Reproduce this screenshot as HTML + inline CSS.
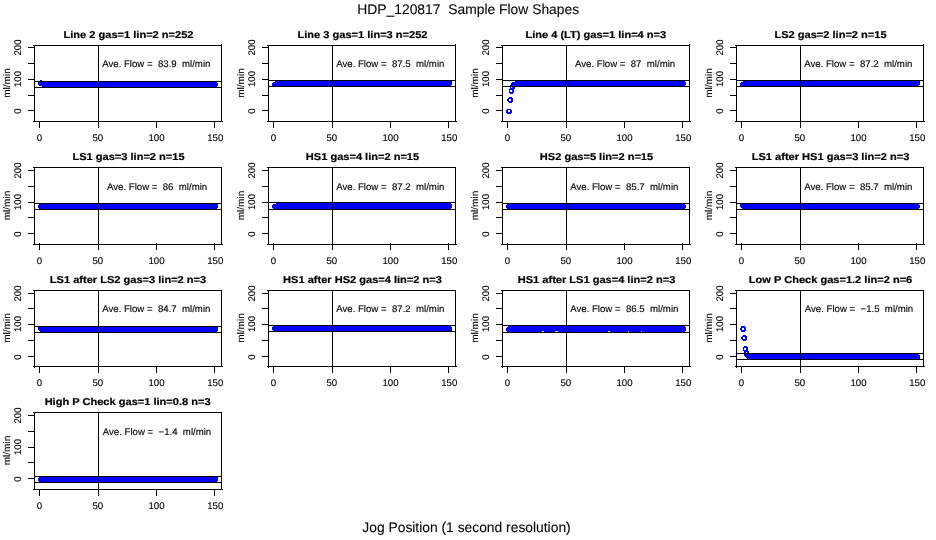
<!DOCTYPE html>
<html lang="en">
<head>
<meta charset="utf-8">
<title>HDP_120817 Sample Flow Shapes</title>
<style>
html,body{margin:0;padding:0;background:#fff;}
body{width:936px;height:540px;overflow:hidden;}
svg{display:block;font-family:"Liberation Sans",sans-serif;fill:#000;text-rendering:geometricPrecision;}
text{white-space:pre;}
.a{font-size:9.65px;stroke:#000;stroke-width:.12px;}
.t{font-size:9.65px;stroke:#000;stroke-width:.12px;}
.b{font-size:10px;font-weight:bold;stroke:#000;stroke-width:.2px;}
.m{font-size:14px;stroke:#000;stroke-width:.08px;}
.k{stroke:#000;stroke-width:1;fill:none;shape-rendering:crispEdges;}
.p{fill:#00f;stroke:none;shape-rendering:crispEdges;}
</style>
</head>
<body>
<svg width="936" height="540" viewBox="0 0 936 540">
<rect width="936" height="540" fill="#fff"/>
<text class="m" transform="translate(468.2 14) scale(.99 1)" text-anchor="middle" xml:space="preserve">HDP_120817  Sample Flow Shapes</text>
<text class="m" transform="translate(466.5 531.5) scale(.988 1)" text-anchor="middle">Jog Position (1 second resolution)</text>
<g>
<path class="p" d="M40 80h2v1h-2zM39 81h7v1h-7zM48 81h6v1h-6zM56 81h5v1h-5zM63 81h5v1h-5zM70 81h5v1h-5zM77 81h5v1h-5zM85 81h5v1h-5zM92 81h5v1h-5zM99 81h5v1h-5zM106 81h5v1h-5zM113 81h6v1h-6zM121 81h5v1h-5zM128 81h5v1h-5zM135 81h5v1h-5zM142 81h6v1h-6zM150 81h5v1h-5zM157 81h5v1h-5zM164 81h5v1h-5zM171 81h5v1h-5zM179 81h5v1h-5zM186 81h5v1h-5zM193 81h5v1h-5zM200 81h5v1h-5zM207 81h6v1h-6zM215 81h1v1h-1zM38 82h179v1h-179zM38 83h180v1h-180zM38 84h180v1h-180zM39 85h179v1h-179zM42 86h175v1h-175z"/>
<path class="k" d="M33 45.5H222M33 121.5H223M34.5 45V122M221.5 44V122M28 47.5H35M28 63.5H35M28 79.5H35M28 95.5H35M28 110.5H35M39.5 121V128M98.5 121V128M156.5 121V128M214.5 121V128M98.5 45V122M34 81.5H222M34 87.5H222"/>
<text class="b" transform="translate(128.5 37.7) scale(1.105 1)" text-anchor="middle">Line 2 gas=1 lin=2 n=252</text>
<text class="a" transform="translate(156.3 67.1)" text-anchor="middle" xml:space="preserve">Ave. Flow =  83.9  ml/min</text>
<text class="t" transform="translate(39.5 141)" text-anchor="middle">0</text>
<text class="t" transform="translate(97.8 141)" text-anchor="middle">50</text>
<text class="t" transform="translate(156.5 141)" text-anchor="middle">100</text>
<text class="t" transform="translate(215.3 141)" text-anchor="middle">150</text>
<text class="t" transform="translate(20.8 111.2) rotate(-90)" text-anchor="middle">0</text>
<text class="t" transform="translate(20.8 79) rotate(-90)" text-anchor="middle">100</text>
<text class="t" transform="translate(20.8 47.5) rotate(-90)" text-anchor="middle">200</text>
<text class="a" transform="translate(9.8 83) rotate(-90) scale(1.045 1)" text-anchor="middle">ml/min</text>
</g>
<g>
<path class="p" d="M276 80h174v1h-174zM275 81h177v1h-177zM273 82h179v1h-179zM272 83h180v1h-180zM272 84h180v1h-180zM272 85h179v1h-179zM273 86h5v1h-5z"/>
<path class="k" d="M267 45.5H456M267 121.5H457M268.5 45V122M455.5 44V122M262 47.5H269M262 63.5H269M262 79.5H269M262 95.5H269M262 110.5H269M273.5 121V128M332.5 121V128M390.5 121V128M448.5 121V128M332.5 45V122M268 80.5H456M268 86.5H456"/>
<text class="b" transform="translate(362.5 37.7) scale(1.105 1)" text-anchor="middle">Line 3 gas=1 lin=3 n=252</text>
<text class="a" transform="translate(390.3 67.1)" text-anchor="middle" xml:space="preserve">Ave. Flow =  87.5  ml/min</text>
<text class="t" transform="translate(273.5 141)" text-anchor="middle">0</text>
<text class="t" transform="translate(331.8 141)" text-anchor="middle">50</text>
<text class="t" transform="translate(390.5 141)" text-anchor="middle">100</text>
<text class="t" transform="translate(449.3 141)" text-anchor="middle">150</text>
<text class="t" transform="translate(254.8 111.2) rotate(-90)" text-anchor="middle">0</text>
<text class="t" transform="translate(254.8 79) rotate(-90)" text-anchor="middle">100</text>
<text class="t" transform="translate(254.8 47.5) rotate(-90)" text-anchor="middle">200</text>
<text class="a" transform="translate(243.8 83) rotate(-90) scale(1.045 1)" text-anchor="middle">ml/min</text>
</g>
<g>
<path class="p" d="M518 80h2v1h-2zM525 80h2v1h-2zM532 80h3v1h-3zM540 80h2v1h-2zM547 80h2v1h-2zM554 80h2v1h-2zM561 80h2v1h-2zM569 80h2v1h-2zM576 80h2v1h-2zM583 80h2v1h-2zM590 80h2v1h-2zM597 80h3v1h-3zM605 80h2v1h-2zM612 80h2v1h-2zM619 80h2v1h-2zM626 80h3v1h-3zM634 80h2v1h-2zM641 80h2v1h-2zM648 80h2v1h-2zM655 80h2v1h-2zM663 80h2v1h-2zM670 80h2v1h-2zM677 80h2v1h-2zM515 81h170v1h-170zM512 82h174v1h-174zM511 83h175v1h-175zM511 84h175v1h-175zM510 85h175v1h-175zM510 87h1v1h-1zM512 87h3v1h-3zM510 88h5v1h-5zM509 89h5v1h-5zM509 90h1v1h-1zM512 90h2v1h-2zM509 91h1v1h-1zM512 91h2v1h-2zM509 92h5v1h-5zM510 93h3v1h-3zM509 97h3v1h-3zM508 98h5v1h-5zM507 99h2v1h-2zM511 99h2v1h-2zM507 100h2v1h-2zM511 100h2v1h-2zM508 101h5v1h-5zM509 102h3v1h-3zM507 109h4v1h-4zM506 110h2v1h-2zM510 110h2v1h-2zM506 111h2v1h-2zM510 111h2v1h-2zM506 112h6v1h-6zM507 113h4v1h-4z"/>
<path class="k" d="M501 45.5H690M501 121.5H691M502.5 45V122M689.5 44V122M496 47.5H503M496 63.5H503M496 79.5H503M496 95.5H503M496 110.5H503M507.5 121V128M566.5 121V128M624.5 121V128M682.5 121V128M566.5 45V122M502 80.5H690M502 86.5H690"/>
<text class="b" transform="translate(595.8 37.7) scale(1.105 1)" text-anchor="middle">Line 4 (LT) gas=1 lin=4 n=3</text>
<text class="a" transform="translate(625.1 67.1)" text-anchor="middle" xml:space="preserve">Ave. Flow =  87  ml/min</text>
<text class="t" transform="translate(507.5 141)" text-anchor="middle">0</text>
<text class="t" transform="translate(565.8 141)" text-anchor="middle">50</text>
<text class="t" transform="translate(624.5 141)" text-anchor="middle">100</text>
<text class="t" transform="translate(683.3 141)" text-anchor="middle">150</text>
<text class="t" transform="translate(488.8 111.2) rotate(-90)" text-anchor="middle">0</text>
<text class="t" transform="translate(488.8 79) rotate(-90)" text-anchor="middle">100</text>
<text class="t" transform="translate(488.8 47.5) rotate(-90)" text-anchor="middle">200</text>
<text class="a" transform="translate(477.8 83) rotate(-90) scale(1.045 1)" text-anchor="middle">ml/min</text>
</g>
<g>
<path class="p" d="M745 80h173v1h-173zM743 81h177v1h-177zM741 82h179v1h-179zM740 83h180v1h-180zM740 84h180v1h-180zM740 85h179v1h-179zM741 86h5v1h-5z"/>
<path class="k" d="M735 45.5H924M735 121.5H925M736.5 45V122M923.5 44V122M730 47.5H737M730 63.5H737M730 79.5H737M730 95.5H737M730 110.5H737M741.5 121V128M800.5 121V128M858.5 121V128M916.5 121V128M800.5 45V122M736 80.5H924M736 86.5H924"/>
<text class="b" transform="translate(830.5 37.7) scale(1.105 1)" text-anchor="middle">LS2 gas=2 lin=2 n=15</text>
<text class="a" transform="translate(858.3 67.1)" text-anchor="middle" xml:space="preserve">Ave. Flow =  87.2  ml/min</text>
<text class="t" transform="translate(741.5 141)" text-anchor="middle">0</text>
<text class="t" transform="translate(799.8 141)" text-anchor="middle">50</text>
<text class="t" transform="translate(858.5 141)" text-anchor="middle">100</text>
<text class="t" transform="translate(917.3 141)" text-anchor="middle">150</text>
<text class="t" transform="translate(722.8 111.2) rotate(-90)" text-anchor="middle">0</text>
<text class="t" transform="translate(722.8 79) rotate(-90)" text-anchor="middle">100</text>
<text class="t" transform="translate(722.8 47.5) rotate(-90)" text-anchor="middle">200</text>
<text class="a" transform="translate(711.8 83) rotate(-90) scale(1.045 1)" text-anchor="middle">ml/min</text>
</g>
<g>
<path class="p" d="M40 203h176v1h-176zM39 204h179v1h-179zM38 205h180v1h-180zM38 206h180v1h-180zM38 207h180v1h-180zM39 208h178v1h-178z"/>
<path class="k" d="M33 167.5H222M33 244.5H223M34.5 167V245M221.5 167V245M28 170.5H35M28 186.5H35M28 202.5H35M28 217.5H35M28 233.5H35M39.5 243V250M98.5 243V250M156.5 243V250M214.5 243V250M98.5 167V245M34 203.5H222M34 209.5H222"/>
<text class="b" transform="translate(128.5 159.7) scale(1.105 1)" text-anchor="middle">LS1 gas=3 lin=2 n=15</text>
<text class="a" transform="translate(157.1 190.1)" text-anchor="middle" xml:space="preserve">Ave. Flow =  86  ml/min</text>
<text class="t" transform="translate(39.5 264)" text-anchor="middle">0</text>
<text class="t" transform="translate(97.8 264)" text-anchor="middle">50</text>
<text class="t" transform="translate(156.5 264)" text-anchor="middle">100</text>
<text class="t" transform="translate(215.3 264)" text-anchor="middle">150</text>
<text class="t" transform="translate(20.8 234.2) rotate(-90)" text-anchor="middle">0</text>
<text class="t" transform="translate(20.8 202) rotate(-90)" text-anchor="middle">100</text>
<text class="t" transform="translate(20.8 170.5) rotate(-90)" text-anchor="middle">200</text>
<text class="a" transform="translate(9.8 205.5) rotate(-90) scale(1.045 1)" text-anchor="middle">ml/min</text>
</g>
<g>
<path class="p" d="M276 203h175v1h-175zM273 204h179v1h-179zM272 205h180v1h-180zM272 206h180v1h-180zM272 207h180v1h-180zM273 208h178v1h-178zM275 209h1v1h-1z"/>
<path class="k" d="M267 167.5H456M267 244.5H457M268.5 167V245M455.5 167V245M262 170.5H269M262 186.5H269M262 202.5H269M262 217.5H269M262 233.5H269M273.5 243V250M332.5 243V250M390.5 243V250M448.5 243V250M332.5 167V245M268 202.5H456M268 209.5H456"/>
<text class="b" transform="translate(362.5 159.7) scale(1.105 1)" text-anchor="middle">HS1 gas=4 lin=2 n=15</text>
<text class="a" transform="translate(390.3 190.1)" text-anchor="middle" xml:space="preserve">Ave. Flow =  87.2  ml/min</text>
<text class="t" transform="translate(273.5 264)" text-anchor="middle">0</text>
<text class="t" transform="translate(331.8 264)" text-anchor="middle">50</text>
<text class="t" transform="translate(390.5 264)" text-anchor="middle">100</text>
<text class="t" transform="translate(449.3 264)" text-anchor="middle">150</text>
<text class="t" transform="translate(254.8 234.2) rotate(-90)" text-anchor="middle">0</text>
<text class="t" transform="translate(254.8 202) rotate(-90)" text-anchor="middle">100</text>
<text class="t" transform="translate(254.8 170.5) rotate(-90)" text-anchor="middle">200</text>
<text class="a" transform="translate(243.8 205.5) rotate(-90) scale(1.045 1)" text-anchor="middle">ml/min</text>
</g>
<g>
<path class="p" d="M507 204h178v1h-178zM506 205h180v1h-180zM506 206h180v1h-180zM506 207h180v1h-180zM507 208h178v1h-178zM511 209h2v1h-2zM518 209h2v1h-2zM525 209h2v1h-2zM532 209h2v1h-2zM540 209h2v1h-2zM547 209h2v1h-2zM554 209h2v1h-2zM561 209h2v1h-2zM569 209h2v1h-2zM576 209h2v1h-2zM583 209h2v1h-2zM590 209h2v1h-2zM597 209h3v1h-3zM605 209h2v1h-2zM612 209h2v1h-2zM619 209h2v1h-2zM626 209h2v1h-2zM634 209h2v1h-2zM641 209h2v1h-2zM648 209h2v1h-2zM655 209h2v1h-2zM663 209h2v1h-2zM670 209h2v1h-2zM677 209h2v1h-2z"/>
<path class="k" d="M501 167.5H690M501 244.5H691M502.5 167V245M689.5 167V245M496 170.5H503M496 186.5H503M496 202.5H503M496 217.5H503M496 233.5H503M507.5 243V250M566.5 243V250M624.5 243V250M682.5 243V250M566.5 167V245M502 203.5H690M502 209.5H690"/>
<text class="b" transform="translate(596.5 159.7) scale(1.105 1)" text-anchor="middle">HS2 gas=5 lin=2 n=15</text>
<text class="a" transform="translate(624.3 190.1)" text-anchor="middle" xml:space="preserve">Ave. Flow =  85.7  ml/min</text>
<text class="t" transform="translate(507.5 264)" text-anchor="middle">0</text>
<text class="t" transform="translate(565.8 264)" text-anchor="middle">50</text>
<text class="t" transform="translate(624.5 264)" text-anchor="middle">100</text>
<text class="t" transform="translate(683.3 264)" text-anchor="middle">150</text>
<text class="t" transform="translate(488.8 234.2) rotate(-90)" text-anchor="middle">0</text>
<text class="t" transform="translate(488.8 202) rotate(-90)" text-anchor="middle">100</text>
<text class="t" transform="translate(488.8 170.5) rotate(-90)" text-anchor="middle">200</text>
<text class="a" transform="translate(477.8 205.5) rotate(-90) scale(1.045 1)" text-anchor="middle">ml/min</text>
</g>
<g>
<path class="p" d="M741 203h4v1h-4zM740 204h179v1h-179zM740 205h180v1h-180zM740 206h180v1h-180zM741 207h179v1h-179zM742 208h177v1h-177zM745 209h2v1h-2zM752 209h2v1h-2zM759 209h2v1h-2zM766 209h2v1h-2zM774 209h2v1h-2zM781 209h2v1h-2zM788 209h2v1h-2zM795 209h2v1h-2zM803 209h2v1h-2zM810 209h2v1h-2zM817 209h2v1h-2zM824 209h2v1h-2zM831 209h3v1h-3zM839 209h2v1h-2zM846 209h2v1h-2zM853 209h2v1h-2zM860 209h2v1h-2zM868 209h2v1h-2zM875 209h2v1h-2zM882 209h2v1h-2zM889 209h2v1h-2zM897 209h2v1h-2zM904 209h2v1h-2zM911 209h2v1h-2z"/>
<path class="k" d="M735 167.5H924M735 244.5H925M736.5 167V245M923.5 167V245M730 170.5H737M730 186.5H737M730 202.5H737M730 217.5H737M730 233.5H737M741.5 243V250M800.5 243V250M858.5 243V250M916.5 243V250M800.5 167V245M736 203.5H924M736 209.5H924"/>
<text class="b" transform="translate(830.5 159.7) scale(1.105 1)" text-anchor="middle">LS1 after HS1 gas=3 lin=2 n=3</text>
<text class="a" transform="translate(858.3 190.1)" text-anchor="middle" xml:space="preserve">Ave. Flow =  85.7  ml/min</text>
<text class="t" transform="translate(741.5 264)" text-anchor="middle">0</text>
<text class="t" transform="translate(799.8 264)" text-anchor="middle">50</text>
<text class="t" transform="translate(858.5 264)" text-anchor="middle">100</text>
<text class="t" transform="translate(917.3 264)" text-anchor="middle">150</text>
<text class="t" transform="translate(722.8 234.2) rotate(-90)" text-anchor="middle">0</text>
<text class="t" transform="translate(722.8 202) rotate(-90)" text-anchor="middle">100</text>
<text class="t" transform="translate(722.8 170.5) rotate(-90)" text-anchor="middle">200</text>
<text class="a" transform="translate(711.8 205.5) rotate(-90) scale(1.045 1)" text-anchor="middle">ml/min</text>
</g>
<g>
<path class="p" d="M39 326h177v1h-177zM38 327h180v1h-180zM38 328h180v1h-180zM38 329h180v1h-180zM39 330h179v1h-179zM40 331h177v1h-177z"/>
<path class="k" d="M33 290.5H222M33 366.5H223M34.5 290V368M221.5 290V367M28 293.5H35M28 308.5H35M28 324.5H35M28 340.5H35M28 356.5H35M39.5 366V373M98.5 366V373M156.5 366V373M214.5 366V373M98.5 290V367M34 326.5H222M34 332.5H222"/>
<text class="b" transform="translate(128 282.7) scale(1.105 1)" text-anchor="middle">LS1 after LS2 gas=3 lin=2 n=3</text>
<text class="a" transform="translate(156.3 312.1)" text-anchor="middle" xml:space="preserve">Ave. Flow =  84.7  ml/min</text>
<text class="t" transform="translate(39.5 386)" text-anchor="middle">0</text>
<text class="t" transform="translate(97.8 386)" text-anchor="middle">50</text>
<text class="t" transform="translate(156.5 386)" text-anchor="middle">100</text>
<text class="t" transform="translate(215.3 386)" text-anchor="middle">150</text>
<text class="t" transform="translate(20.8 357.2) rotate(-90)" text-anchor="middle">0</text>
<text class="t" transform="translate(20.8 324) rotate(-90)" text-anchor="middle">100</text>
<text class="t" transform="translate(20.8 293.5) rotate(-90)" text-anchor="middle">200</text>
<text class="a" transform="translate(9.8 328) rotate(-90) scale(1.045 1)" text-anchor="middle">ml/min</text>
</g>
<g>
<path class="p" d="M273 326h178v1h-178zM272 327h180v1h-180zM272 328h180v1h-180zM272 329h180v1h-180zM273 330h179v1h-179zM274 331h176v1h-176z"/>
<path class="k" d="M267 290.5H456M267 366.5H457M268.5 290V368M455.5 290V367M262 293.5H269M262 308.5H269M262 324.5H269M262 340.5H269M262 356.5H269M273.5 366V373M332.5 366V373M390.5 366V373M448.5 366V373M332.5 290V367M268 325.5H456M268 331.5H456"/>
<text class="b" transform="translate(362.5 282.7) scale(1.105 1)" text-anchor="middle">HS1 after HS2 gas=4 lin=2 n=3</text>
<text class="a" transform="translate(390.3 312.1)" text-anchor="middle" xml:space="preserve">Ave. Flow =  87.2  ml/min</text>
<text class="t" transform="translate(273.5 386)" text-anchor="middle">0</text>
<text class="t" transform="translate(331.8 386)" text-anchor="middle">50</text>
<text class="t" transform="translate(390.5 386)" text-anchor="middle">100</text>
<text class="t" transform="translate(449.3 386)" text-anchor="middle">150</text>
<text class="t" transform="translate(254.8 357.2) rotate(-90)" text-anchor="middle">0</text>
<text class="t" transform="translate(254.8 324) rotate(-90)" text-anchor="middle">100</text>
<text class="t" transform="translate(254.8 293.5) rotate(-90)" text-anchor="middle">200</text>
<text class="a" transform="translate(243.8 328) rotate(-90) scale(1.045 1)" text-anchor="middle">ml/min</text>
</g>
<g>
<path class="p" d="M540 325h5v1h-5zM553 325h6v1h-6zM606 325h5v1h-5zM626 325h4v1h-4zM639 325h5v1h-5zM508 326h177v1h-177zM507 327h179v1h-179zM506 328h180v1h-180zM506 329h180v1h-180zM506 330h180v1h-180zM507 331h35v1h-35zM544 331h11v1h-11zM558 331h50v1h-50zM610 331h18v1h-18zM629 331h12v1h-12zM642 331h43v1h-43z"/>
<path class="k" d="M501 290.5H690M501 366.5H691M502.5 290V368M689.5 290V367M496 293.5H503M496 308.5H503M496 324.5H503M496 340.5H503M496 356.5H503M507.5 366V373M566.5 366V373M624.5 366V373M682.5 366V373M566.5 290V367M502 325.5H690M502 332.5H690"/>
<text class="b" transform="translate(596.5 282.7) scale(1.105 1)" text-anchor="middle">HS1 after LS1 gas=4 lin=2 n=3</text>
<text class="a" transform="translate(624.3 312.1)" text-anchor="middle" xml:space="preserve">Ave. Flow =  86.5  ml/min</text>
<text class="t" transform="translate(507.5 386)" text-anchor="middle">0</text>
<text class="t" transform="translate(565.8 386)" text-anchor="middle">50</text>
<text class="t" transform="translate(624.5 386)" text-anchor="middle">100</text>
<text class="t" transform="translate(683.3 386)" text-anchor="middle">150</text>
<text class="t" transform="translate(488.8 357.2) rotate(-90)" text-anchor="middle">0</text>
<text class="t" transform="translate(488.8 324) rotate(-90)" text-anchor="middle">100</text>
<text class="t" transform="translate(488.8 293.5) rotate(-90)" text-anchor="middle">200</text>
<text class="a" transform="translate(477.8 328) rotate(-90) scale(1.045 1)" text-anchor="middle">ml/min</text>
</g>
<g>
<path class="p" d="M741 326h4v1h-4zM741 327h5v1h-5zM740 328h2v1h-2zM744 328h2v1h-2zM740 329h2v1h-2zM744 329h2v1h-2zM741 330h5v1h-5zM741 331h4v1h-4zM743 335h3v1h-3zM742 336h5v1h-5zM741 337h2v1h-2zM745 337h2v1h-2zM741 338h2v1h-2zM745 338h2v1h-2zM742 339h5v1h-5zM743 340h3v1h-3zM744 346h3v1h-3zM743 347h5v1h-5zM743 348h1v1h-1zM746 348h2v1h-2zM743 349h1v1h-1zM746 349h2v1h-2zM743 350h5v1h-5zM744 351h5v1h-5zM744 352h2v1h-2zM747 352h2v1h-2zM744 354h175v1h-175zM744 355h176v1h-176zM745 356h175v1h-175zM746 357h174v1h-174zM747 358h173v1h-173zM751 359h167v1h-167z"/>
<path class="k" d="M735 290.5H924M735 366.5H925M736.5 290V368M923.5 290V367M730 293.5H737M730 308.5H737M730 324.5H737M730 340.5H737M730 356.5H737M741.5 366V373M800.5 366V373M858.5 366V373M916.5 366V373M800.5 290V367M736 353.5H924M736 359.5H924"/>
<text class="b" transform="translate(830.5 282.7) scale(1.105 1)" text-anchor="middle">Low P Check gas=1.2 lin=2 n=6</text>
<text class="a" transform="translate(859 312.1)" text-anchor="middle" xml:space="preserve">Ave. Flow =  −1.5  ml/min</text>
<text class="t" transform="translate(741.5 386)" text-anchor="middle">0</text>
<text class="t" transform="translate(799.8 386)" text-anchor="middle">50</text>
<text class="t" transform="translate(858.5 386)" text-anchor="middle">100</text>
<text class="t" transform="translate(917.3 386)" text-anchor="middle">150</text>
<text class="t" transform="translate(722.8 357.2) rotate(-90)" text-anchor="middle">0</text>
<text class="t" transform="translate(722.8 324) rotate(-90)" text-anchor="middle">100</text>
<text class="t" transform="translate(722.8 293.5) rotate(-90)" text-anchor="middle">200</text>
<text class="a" transform="translate(711.8 328) rotate(-90) scale(1.045 1)" text-anchor="middle">ml/min</text>
</g>
<g>
<path class="p" d="M40 476h177v1h-177zM39 477h179v1h-179zM38 478h180v1h-180zM38 479h180v1h-180zM38 480h180v1h-180zM39 481h178v1h-178z"/>
<path class="k" d="M33 412.5H222M33 489.5H223M34.5 412V490M221.5 412V490M28 415.5H35M28 431.5H35M28 447.5H35M28 462.5H35M28 478.5H35M39.5 489V496M98.5 489V496M156.5 489V496M214.5 489V496M98.5 412V490M34 476.5H222M34 482.5H222"/>
<text class="b" transform="translate(127.6 404.7) scale(1.105 1)" text-anchor="middle">High P Check gas=1 lin=0.8 n=3</text>
<text class="a" transform="translate(157 435.1)" text-anchor="middle" xml:space="preserve">Ave. Flow =  −1.4  ml/min</text>
<text class="t" transform="translate(39.5 509)" text-anchor="middle">0</text>
<text class="t" transform="translate(97.8 509)" text-anchor="middle">50</text>
<text class="t" transform="translate(156.5 509)" text-anchor="middle">100</text>
<text class="t" transform="translate(215.3 509)" text-anchor="middle">150</text>
<text class="t" transform="translate(20.8 479.2) rotate(-90)" text-anchor="middle">0</text>
<text class="t" transform="translate(20.8 447) rotate(-90)" text-anchor="middle">100</text>
<text class="t" transform="translate(20.8 415.5) rotate(-90)" text-anchor="middle">200</text>
<text class="a" transform="translate(9.8 450.5) rotate(-90) scale(1.045 1)" text-anchor="middle">ml/min</text>
</g>
</svg>
</body>
</html>
